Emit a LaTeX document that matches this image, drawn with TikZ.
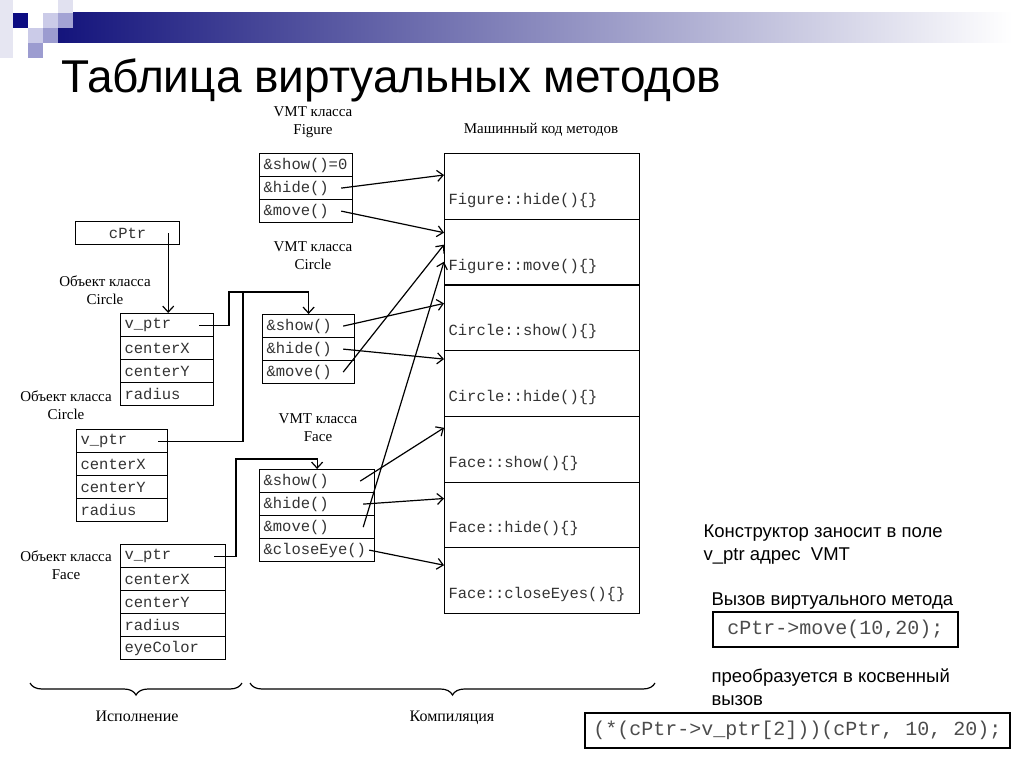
\documentclass[tikz,border=0pt]{standalone}
\usepackage{fontspec}
\setmainfont{Liberation Serif}
\newfontfamily\monofnt{Liberation Mono}
\newfontfamily\sansfnt{Liberation Sans}
\usetikzlibrary{arrows.meta,decorations.pathreplacing,calc}
\definecolor{navy}{HTML}{14147C}
\definecolor{sqnavy}{HTML}{0C0C82}
\definecolor{sqlight}{HTML}{CBCBE8}
\definecolor{sqmid}{HTML}{9C9CD0}
\definecolor{sqpale}{HTML}{E6E6F2}
\definecolor{codegray}{HTML}{333333}
\begin{document}
\begin{tikzpicture}[x=1pt,y=-1pt,
  cell/.style={draw, line width=1.2pt, font=\monofnt\fontsize{15.5}{18}\selectfont,
    text=codegray, anchor=north west, inner xsep=4pt, inner ysep=0pt,
    minimum height=23pt, text width=#1, align=left},
  ccell/.style={draw, line width=1.2pt, font=\monofnt\fontsize{15.5}{18}\selectfont,
    text=codegray, anchor=north west, inner sep=0pt, minimum height=23pt, minimum width=#1},
  mcell/.style={draw, line width=1.2pt, font=\monofnt\fontsize{15.5}{18}\selectfont,
    text=codegray, anchor=north west, inner xsep=4pt, inner ysep=0pt,
    minimum height=65.7pt, text width=187pt, align=left, text height=40pt, text depth=4pt},
  lab/.style={font=\fontsize{15}{18}\selectfont, align=center},
  blab/.style={font=\fontsize{16}{18}\selectfont, anchor=base},
  rtxt/.style={font=\sansfnt\fontsize{18.5}{23}\selectfont, anchor=base west},
  codebox/.style={draw, line width=1.2pt, font=\monofnt\fontsize{20}{24}\selectfont,
    text=black!70, inner sep=0pt},
  arr/.style={line width=1.2pt, -{Straight Barb[length=6pt,width=11pt]}},
  link/.style={line width=1.2pt},
  brc/.style={line width=1.2pt, decorate, decoration={brace, amplitude=12pt}}
]
\useasboundingbox (0,0) rectangle (1024,767);
\fill[white] (0,0) rectangle (1024,767);

% header decoration
\shade[left color=navy, right color=white] (58,13) rectangle (1012,43);
\fill[sqpale] (0,0) rectangle (13,58);
\fill[sqnavy] (13,13) rectangle (28,28);
\fill[sqlight] (43,13) rectangle (58,28);
\fill[sqpale!80!sqlight] (58,0) rectangle (73,13);
\fill[sqmid!85!sqlight] (58,13) rectangle (73,28);
\fill[sqlight] (28,28) rectangle (43,43);
\fill[sqmid] (43,28) rectangle (58,43);
\fill[sqmid] (28,43) rectangle (43,58);

% title
\node[font=\sansfnt\fontsize{46}{52}\selectfont, anchor=base west, inner sep=0pt] (title) at (61,93) {Таблица виртуальных методов};

% VMT Figure
\node[lab] (lfig) at (313,122) {VMT класса\\Figure};
\node[cell=85pt] (f1) at (259,153) {\&show()=0};
\node[cell=85pt] (f2) at (259,176) {\&hide()};
\node[cell=85pt] (f3) at (259,199) {\&move()};

% cPtr
\node[ccell=104pt] (cptr) at (75,221) {cPtr};

% Circle object 1
\node[lab] (lco1) at (105,290) {Объект класса\\Circle};
\node[cell=85pt] (c1a) at (120,313) {v\_ptr};
\node[cell=85pt] (c1b) at (120,336) {centerX};
\node[cell=85pt] (c1c) at (120,359) {centerY};
\node[cell=85pt] (c1d) at (120,382) {radius};

% VMT Circle
\node[lab] (lci) at (313,256) {VMT класса\\Circle};
\node[cell=84pt] (ci1) at (262,314) {\&show()};
\node[cell=84pt] (ci2) at (262,337) {\&hide()};
\node[cell=84pt] (ci3) at (262,360) {\&move()};

% Circle object 2
\node[lab] (lco2) at (66,405) {Объект класса\\Circle};
\node[cell=83pt] (c2a) at (76,429) {v\_ptr};
\node[cell=83pt] (c2b) at (76,452) {centerX};
\node[cell=83pt] (c2c) at (76,475) {centerY};
\node[cell=83pt] (c2d) at (76,498) {radius};

% VMT Face
\node[lab] (lfa) at (318,428) {VMT класса\\Face};
\node[cell=107pt] (fa1) at (259,469) {\&show()};
\node[cell=107pt] (fa2) at (259,492) {\&hide()};
\node[cell=107pt] (fa3) at (259,515) {\&move()};
\node[cell=107pt] (fa4) at (259,538) {\&closeEye()};

% Face object
\node[lab] (lfo) at (66,565) {Объект класса\\Face};
\node[cell=97pt] (fo1) at (120,544) {v\_ptr};
\node[cell=97pt] (fo2) at (120,567) {centerX};
\node[cell=97pt] (fo3) at (120,590) {centerY};
\node[cell=97pt] (fo4) at (120,613) {radius};
\node[cell=97pt] (fo5) at (120,636) {eyeColor};

% machine code
\node[lab] (lmc) at (541,130) {Машинный код методов};
\node[mcell] (mc1) at (444,153) {Figure::hide()\{\}};
\node[mcell] (mc2) at (444,218.7) {Figure::move()\{\}};
\node[mcell] (mc3) at (444,284.4) {Circle::show()\{\}};
\node[mcell] (mc4) at (444,350.1) {Circle::hide()\{\}};
\node[mcell] (mc5) at (444,415.8) {Face::show()\{\}};
\node[mcell] (mc6) at (444,481.5) {Face::hide()\{\}};
\node[mcell] (mc7) at (444,547.2) {Face::closeEyes()\{\}};

% bend points
\coordinate (bend1) at (229,292);
\coordinate (bend2) at (243,292);
\coordinate (bend3) at (236,459);

% pointer links
\draw[arr] ([xshift=-12pt]cptr.east) -- ([xshift=-12pt]cptr.east |- c1a.north);
\draw[arr] ([xshift=-15pt]c1a.east) -| (bend1) -| (ci1.north);
\draw[link] ([xshift=-10pt]c2a.east) -| (bend2);
\draw[arr] ([xshift=-12pt]fo1.east) -| (bend3) -| (fa1.north);

% method links
\draw[arr] ([xshift=-12pt]f2.east) -- ([yshift=-22pt]mc1.north west);
\draw[arr] ([xshift=-12pt]f3.east) -- ([yshift=-14pt]mc2.north west);
\draw[arr] ([xshift=-12pt]ci1.east) -- ([yshift=-19pt]mc3.north west);
\draw[arr] ([xshift=-12pt]ci2.east) -- ([yshift=-9pt]mc4.north west);
\draw[arr] ([xshift=-12pt]ci3.east) -- ([yshift=-26pt]mc2.north west);
\draw[arr] ([xshift=-15pt]fa1.east) -- ([yshift=-12pt]mc5.north west);
\draw[arr] ([xshift=-12pt]fa2.east) -- ([yshift=-17pt]mc6.north west);
\draw[arr] ([xshift=-12pt]fa3.east) -- ([yshift=-43pt]mc2.north west);
\draw[arr] ([xshift=-6pt]fa4.east) -- ([yshift=-18pt]mc7.north west);

% right-hand notes
\node[rtxt] (n1) at (700,537) {Конструктор заносит в поле};
\node[rtxt] (n2) at (700,560) {v\_ptr адрес\ \ VMT};
\node[rtxt] (n3) at (708,605) {Вызов виртуального метода};
\node[codebox, minimum width=245pt, minimum height=35pt] (call) at (835.5,629.5) {cPtr->move(10,20);};
\node[rtxt] (n4) at (708,682) {преобразуется в косвенный};
\node[rtxt] (n5) at (708,705) {вызов};
\node[codebox, minimum width=425pt, minimum height=35pt] (icall) at (797.5,730.5) {(*(cPtr->v\_ptr[2]))(cPtr, 10, 20);};

% braces
\coordinate (b1r) at (242,683);
\coordinate (b1l) at (30,683);
\coordinate (b2r) at (655,683);
\coordinate (b2l) at (250,683);
\draw[brc] (b1r) -- (b1l);
\draw[brc] (b2r) -- (b2l);
\node[blab] (lexe) at (137,721) {Исполнение};
\node[blab] (lcomp) at (452,721) {Компиляция};
\end{tikzpicture}
\end{document}
